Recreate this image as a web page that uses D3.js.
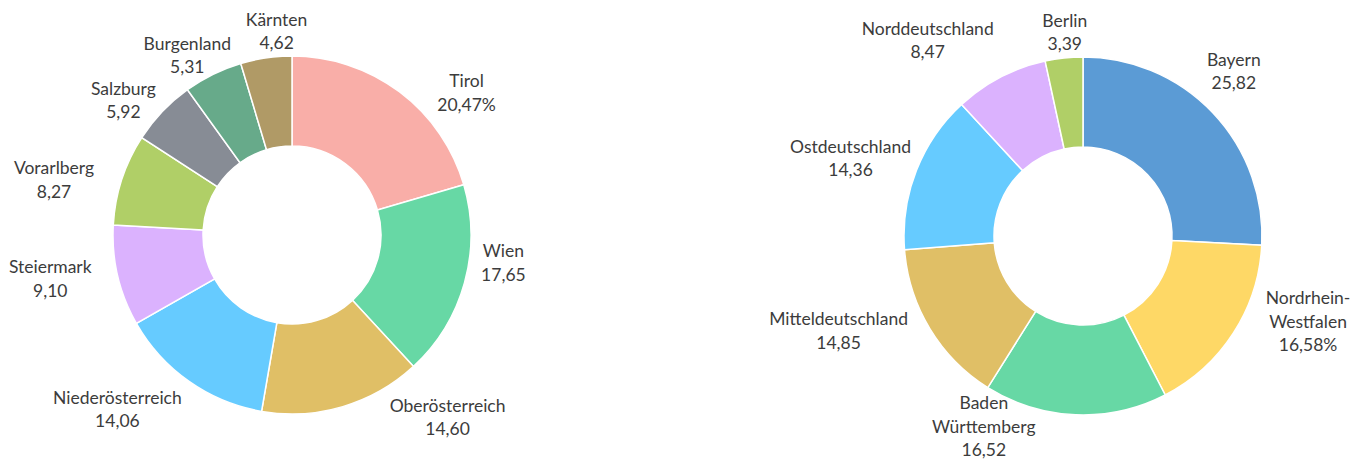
<!DOCTYPE html>
<html>
<head>
<meta charset="utf-8">
<script src="https://cdn.jsdelivr.net/npm/d3@7"></script>
<style>
  html, body { margin: 0; padding: 0; background: #fff; }
  svg text { font-family: Lato, "Open Sans", sans-serif; font-weight: 400; fill: #3c3c3c; }
</style>
</head>
<body>
<div id="chart"></div>
<script>
// Two donut charts: share by Austrian state (left) and German region (right).

const AT_NAMES = [
  ["Tirol"], ["Wien"], ["Oberösterreich"], ["Niederösterreich"], ["Steiermark"],
  ["Vorarlberg"], ["Salzburg"], ["Burgenland"], ["Kärnten"],
];
const AT_VALUES = [20.47, 17.65, 14.60, 14.06, 9.10, 8.27, 5.92, 5.31, 4.62];
const AT_COLORS = [
  "#f9aea8", "#67d8a5", "#e0bf66", "#66cbff", "#dbb2fe",
  "#b0cf67", "#878c95", "#67aa8a", "#b09a66",
];

const DE_NAMES = [
  ["Bayern"], ["Nordrhein-", "Westfalen"], ["Baden", "Württemberg"], ["Mitteldeutschland"],
  ["Ostdeutschland"], ["Norddeutschland"], ["Berlin"],
];
const DE_VALUES = [25.82, 16.58, 16.52, 14.85, 14.36, 8.47, 3.39];
const DE_COLORS = ["#5b9bd5", "#fed866", "#67d8a5", "#e0bf66", "#66cbff", "#dbb2fe", "#b0cf67"];

// only one label per chart carries the percent sign in the original
const AT_PERCENT = 0;
const DE_PERCENT = 1;

// label layout: turn (degrees) off the slice's mid angle, and extra push outward (px)
const AT_LABEL_TURN = [14, -8, -24, 10, 3, -5, -5, -4, 4];
const AT_LABEL_PUSH = [0, 0, 0, 0, 11, 16, 0, -7, -5];
const DE_LABEL_TURN = [-4, -12, 15, 10, -3, -11, 1];
const DE_LABEL_PUSH = [4, 0, -14, 0, 0, 29, -5];

const WIDTH = 1357;
const HEIGHT = 459;
const OUTER = 179;
const INNER = 89;
const LINE_H = 23.5;
const FONT = 17.5;
const CAP = FONT * 0.72;
const PAD = 12;
const EDGE = 3;

const fmt = d3.formatLocale({ decimal: ",", thousands: "." }).format(".2f");

const svg = d3
  .select("#chart")
  .append("svg")
  .attr("width", WIDTH)
  .attr("height", HEIGHT)
  .attr("viewBox", [0, 0, WIDTH, HEIGHT]);

// distance from the donut centre to the nearest point of a box
function nearest(cx, cy, a, b) {
  const dx = Math.max(0, Math.abs(cx) - a);
  const dy = Math.max(0, Math.abs(cy) - b);
  return Math.hypot(dx, dy);
}

function drawDonut({ cx, cy, names, values, colors, percentIndex, turns, pushes }) {
  const data = values.map((value, i) => ({
    name: names[i], value, color: colors[i], pct: i === percentIndex, turn: turns[i], push: pushes[i],
  }));
  const pie = d3.pie().sort(null).value((d) => d.value);
  const arc = d3.arc().innerRadius(INNER).outerRadius(OUTER);

  const g = svg.append("g").attr("transform", `translate(${cx},${cy})`);

  g.selectAll("path.slice")
    .data(pie(data))
    .join("path")
    .attr("class", "slice")
    .attr("d", arc)
    .attr("fill", (d) => d.data.color)
    .attr("stroke", "#fff")
    .attr("stroke-width", 1.5);

  const labels = g
    .selectAll("text.label")
    .data(pie(data))
    .join("text")
    .attr("class", "label")
    .attr("text-anchor", "middle")
    .style("font-size", `${FONT}px`);

  labels.each(function (d) {
    const lines = [...d.data.name, fmt(d.data.value) + (d.data.pct ? "%" : "")];
    const t = d3.select(this);
    lines.forEach((line, i) => {
      t.append("tspan").attr("x", 0).attr("dy", i === 0 ? 0 : LINE_H).text(line);
    });
  });

  labels.attr("transform", function (d) {
    // one box per line, cap top to baseline, relative to the block centre
    const widths = [];
    d3.select(this).selectAll("tspan").each(function () {
      widths.push(this.getComputedTextLength());
    });
    const blockTop = -CAP;
    const blockBottom = (widths.length - 1) * LINE_H;
    const midY = (blockTop + blockBottom) / 2;
    const halfH = (blockBottom - blockTop) / 2;
    const lineBoxes = widths.map((w, i) => ({ a: w / 2, y: i * LINE_H - CAP / 2 - midY }));
    const clearance = (px, py) =>
      d3.min(lineBoxes, (l) => nearest(px, py + l.y, l.a, CAP / 2));

    const R = OUTER + PAD + d.data.push;
    const mid = (d.startAngle + d.endAngle) / 2 + (d.data.turn * Math.PI) / 180;
    const ux = Math.sin(mid);
    const uy = -Math.cos(mid);

    // walk outward until the block clears the ring
    let lo = 0;
    let hi = 500;
    for (let k = 0; k < 40; k++) {
      const m = (lo + hi) / 2;
      if (clearance(m * ux, m * uy) < R) lo = m;
      else hi = m;
    }
    let bx = hi * ux;
    let by = hi * uy;

    // keep the block inside the picture, sliding sideways round the ring
    const maxY = HEIGHT - EDGE - cy - halfH;
    const minY = EDGE - cy + halfH;
    if (by > maxY || by < minY) {
      by = Math.max(minY, Math.min(maxY, by));
      const side = Math.sign(ux || 1);
      lo = 0;
      hi = 500;
      for (let k = 0; k < 40; k++) {
        const m = (lo + hi) / 2;
        if (clearance(side * m, by) < R) lo = m;
        else hi = m;
      }
      bx = side * hi;
    }

    return `translate(${bx},${by - midY})`;
  });
}

drawDonut({
  cx: 292, cy: 235, names: AT_NAMES, values: AT_VALUES, colors: AT_COLORS,
  percentIndex: AT_PERCENT, turns: AT_LABEL_TURN, pushes: AT_LABEL_PUSH,
});
drawDonut({
  cx: 1083, cy: 236, names: DE_NAMES, values: DE_VALUES, colors: DE_COLORS,
  percentIndex: DE_PERCENT, turns: DE_LABEL_TURN, pushes: DE_LABEL_PUSH,
});
</script>
</body>
</html>
